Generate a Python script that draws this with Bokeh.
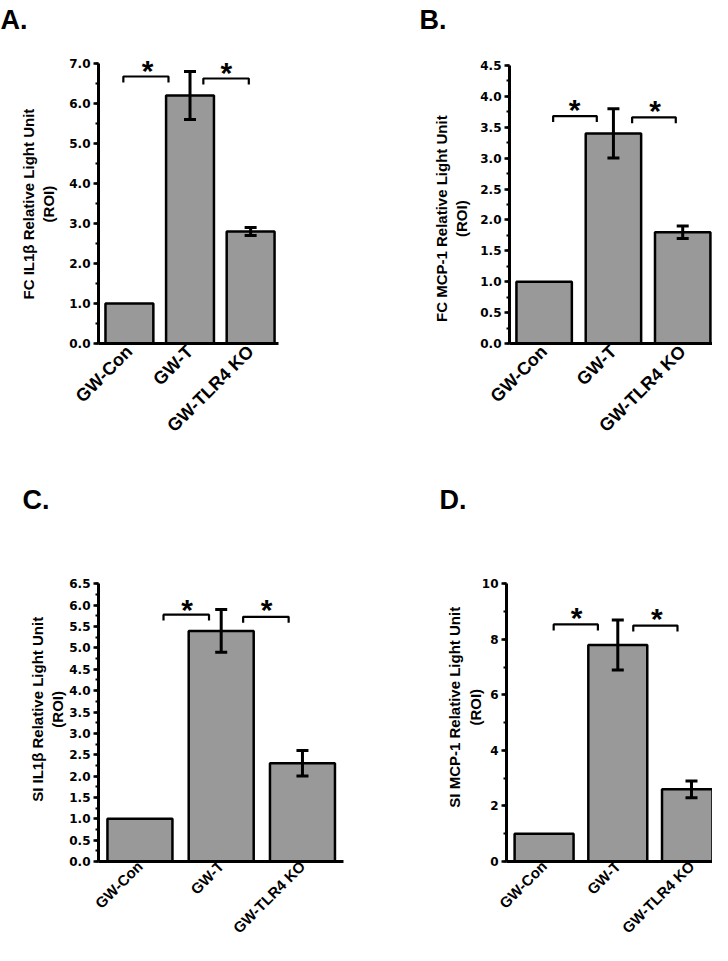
import math
from bokeh.plotting import figure
from bokeh.models import (Range1d, SingleIntervalTicker, FixedTicker, NumeralTickFormatter,
                          ColumnDataSource, Whisker, TeeHead)
from bokeh.layouts import row, column
from bokeh.embed import file_html
from bokeh.resources import INLINE
from bokeh.core.properties import value

# ---------------- data ----------------
categories = ["GW-Con", "GW-T", "GW-TLR4 KO"]

fc_il1b_mean = [1.0, 6.2, 2.8]
fc_il1b_err = [0.0, 0.6, 0.1]
fc_mcp1_mean = [1.0, 3.4, 1.8]
fc_mcp1_err = [0.0, 0.4, 0.1]
si_il1b_mean = [1.0, 5.4, 2.3]
si_il1b_err = [0.0, 0.5, 0.3]
si_mcp1_mean = [1.0, 7.8, 2.6]
si_mcp1_err = [0.0, 0.9, 0.3]

panel_letters = ["A.", "B.", "C.", "D."]
y_title_lines = [("FC IL1\u03b2 Relative Light Unit", "(ROI)"),
                 ("FC MCP-1 Relative Light Unit", "(ROI)"),
                 ("SI IL1\u03b2 Relative Light Unit", "(ROI)"),
                 ("SI MCP-1 Relative Light Unit", "(ROI)")]
y_max = [7.0, 4.5, 6.5, 10.0]
y_step = [1.0, 0.5, 0.5, 2.0]
y_format = ["0.0", "0.0", "0.0", "0"]

# significance brackets: (x start, x end, y top) and star (x, y centre)
brackets = [
    [(0.90, 1.645, 6.675), (2.22, 2.97, 6.625)],
    [(1.13, 1.76, 3.68), (2.27, 2.90, 3.66)],
    [(1.29, 1.85, 5.78), (2.27, 2.83, 5.73)],
    [(1.13, 1.73, 8.54), (2.21, 2.81, 8.50)],
]
stars = [
    [(1.30, 6.90), (2.60, 6.85)],
    [(1.44, 3.83), (2.60, 3.82)],
    [(1.58, 5.98), (2.56, 5.96)],
    [(1.44, 8.90), (2.53, 8.85)],
]

# ---------------- layout (pixels) ----------------
FONT = "Liberation Sans"
TICK_FONT = "DejaVu Sans"
BAR_COLOR = "#999999"
# yT = pixel row of the axis maximum, T = top of the drawing frame
layouts = [
    dict(W=356, H=480, L=98, R=278, T=35, yT=63, B=343, xs=0.49, xe=3.46, bw=0.79,
         t_off=-98, t_stand=1, label_standoff=9, xfont="18px", xstand=5, pad=7),
    dict(W=356, H=480, L=153, R=356, T=35, yT=65, B=344, xs=0.50, xe=3.43, bw=0.80,
         t_off=-90, t_stand=1, label_standoff=7, xfont="18px", xstand=5, pad=14),
    dict(W=356, H=465, L=98, R=343, T=35, yT=104, B=384, xs=0.49, xe=3.505, bw=0.80,
         t_off=-76, t_stand=1, label_standoff=0, xfont="15px", xstand=2, pad=10),
    dict(W=356, H=465, L=150, R=356, T=35, yT=104, B=384, xs=0.49, xe=3.285, bw=0.80,
         t_off=-67, t_stand=1, label_standoff=-5, xfont="15px", xstand=2, pad=9),
]


def make_panel(i, means, errs):
    lay = layouts[i]
    ymax = y_max[i]
    ppy = (lay["B"] - lay["yT"]) / ymax
    y_end = ymax + (lay["yT"] - lay["T"]) / ppy
    p = figure(width=lay["W"], height=lay["H"], output_backend="svg", toolbar_location=None,
               x_range=Range1d(lay["xs"], lay["xe"]), y_range=Range1d(0, y_end),
               min_border_left=lay["L"], min_border_right=lay["W"] - lay["R"],
               min_border_top=lay["T"], min_border_bottom=lay["H"] - lay["B"])
    p.outline_line_color = None
    p.xgrid.grid_line_color = None
    p.ygrid.grid_line_color = None
    p.background_fill_color = "white"
    p.border_fill_color = "white"

    # panel letter as title
    p.title.text = panel_letters[i]
    p.title.text_font = FONT
    p.title.text_font_style = "bold"
    p.title.text_font_size = "27px"
    p.title.text_color = "black"
    p.title.align = "left"
    p.title.offset = lay["t_off"]
    p.title.standoff = lay["t_stand"]

    xs = [1, 2, 3]
    p.vbar(x=xs, top=means, width=lay["bw"], bottom=0, fill_color=BAR_COLOR,
           line_color="black", line_width=2.5)

    ex = [x for x, e in zip(xs, errs) if e > 0]
    eu = [m + e for m, e in zip(means, errs) if e > 0]
    el = [m - e for m, e in zip(means, errs) if e > 0]
    src = ColumnDataSource(dict(x=ex, upper=eu, lower=el))
    w = Whisker(base="x", upper="upper", lower="lower", source=src, level="overlay",
                line_color="black", line_width=3,
                upper_head=TeeHead(size=12, line_width=3, line_color="black"),
                lower_head=TeeHead(size=12, line_width=3, line_color="black"))
    p.add_layout(w)

    leg = 6.0 / ppy
    bx, by = [], []
    for (x0, x1, yt) in brackets[i]:
        bx.append([x0, x0, x1, x1])
        by.append([yt - leg, yt, yt, yt - leg])
    p.multi_line(xs=bx, ys=by, line_color="black", line_width=2.2)

    sx = [s[0] for s in stars[i]]
    sy = [s[1] - 3.0 / ppy for s in stars[i]]
    p.text(x=sx, y=sy, text=["*"] * len(sx), text_font=value(FONT), text_font_style="bold",
           text_font_size="30px", text_align="center", text_baseline="alphabetic",
           text_color="black")

    # y axis
    pad = "\u00a0" * lay["pad"]
    l1, l2 = y_title_lines[i]
    ya = p.yaxis[0]
    ya.bounds = (0, ymax)
    ya.ticker = SingleIntervalTicker(interval=y_step[i], num_minor_ticks=2)
    ya.formatter = NumeralTickFormatter(format=y_format[i])
    ya.axis_label = l1 + pad + "\n" + l2 + pad
    ya.axis_label_text_font = FONT
    ya.axis_label_text_font_style = "bold"
    ya.axis_label_text_font_size = "15px"
    ya.axis_label_text_color = "black"
    ya.axis_label_standoff = lay["label_standoff"]
    ya.axis_label_text_align = "center"
    ya.axis_line_width = 3
    ya.axis_line_color = "black"
    ya.major_tick_line_width = 2.5
    ya.major_tick_out = 5
    ya.major_tick_in = 0
    ya.minor_tick_line_width = 2
    ya.minor_tick_out = 3
    ya.minor_tick_in = 0
    ya.major_label_text_font = TICK_FONT
    ya.major_label_text_font_style = "bold"
    ya.major_label_text_font_size = "12px"
    ya.major_label_text_color = "black"
    ya.major_label_standoff = 3

    # x axis
    xa = p.xaxis[0]
    xa.ticker = FixedTicker(ticks=xs, minor_ticks=[])
    xa.major_label_overrides = {x: c for x, c in zip(xs, categories)}
    xa.major_label_orientation = math.pi / 4
    xa.major_label_text_font = FONT
    xa.major_label_text_font_style = "bold"
    xa.major_label_text_font_size = lay["xfont"]
    xa.major_label_text_color = "black"
    xa.major_label_standoff = lay["xstand"]
    xa.axis_line_width = 3
    xa.axis_line_color = "black"
    xa.major_tick_out = 0
    xa.major_tick_in = 0
    xa.minor_tick_out = 0
    xa.minor_tick_in = 0
    return p


pA = make_panel(0, fc_il1b_mean, fc_il1b_err)
pB = make_panel(1, fc_mcp1_mean, fc_mcp1_err)
pC = make_panel(2, si_il1b_mean, si_il1b_err)
pD = make_panel(3, si_mcp1_mean, si_mcp1_err)

layout = column(row(pA, pB, spacing=0), row(pC, pD, spacing=0), spacing=0)

with open("out.html", "w") as f:
    f.write(file_html(layout, INLINE))
